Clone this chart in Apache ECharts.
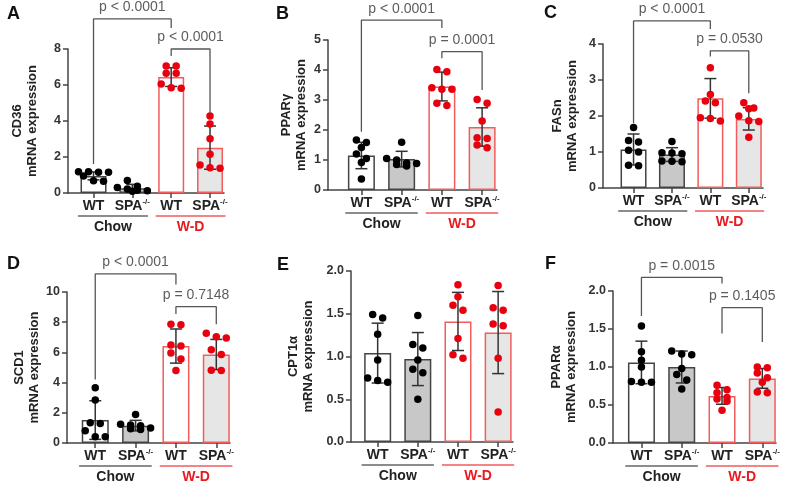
<!DOCTYPE html>
<html>
<head>
<meta charset="utf-8">
<script src="https://cdn.jsdelivr.net/npm/echarts@6/dist/echarts.min.js"></script>
<style>
  html, body { margin: 0; background: #fff; }
  #chart { width: 794px; height: 490px; }
</style>
</head>
<body>
<div id="chart"></div>
<script>
// group order in every panel: Chow WT, Chow SPA-/-, W-D WT, W-D SPA-/-
const genotypes = ['WT', 'SPA']
const diets = ['Chow', 'W-D']

const cd36Ticks = [0, 2, 4, 6, 8]
const cd36Mean = [0.95, 0.26, 6.44, 2.52]
const cd36Sd = [0.22, 0.22, 0.52, 1.2]
const cd36Dots = [
  [1.18, 1.18, 1.15, 1.15, 0.95, 0.68, 0.65],
  [0.7, 0.38, 0.3, 0.22, 0.15, 0.12, 0.1],
  [7.06, 7.06, 6.65, 6.65, 6.05, 5.85, 5.82],
  [4.28, 3.83, 3.02, 2.15, 1.55, 1.4, 1.37]
]
const cd36Tests = [
  { from: 1, to: 3, level: 9.67, legs: [1.61, 9.17], p: 'p < 0.0001' },
  { from: 3, to: 4, level: 8.0, legs: [7.61, 4.44], p: 'p < 0.0001' }
]

const ppargTicks = [0, 1, 2, 3, 4, 5]
const ppargMean = [1.15, 1.03, 3.45, 2.1]
const ppargSd = [0.44, 0.26, 0.48, 0.64]
const ppargDots = [
  [1.67, 1.58, 1.42, 1.2, 1.05, 0.92, 0.37],
  [1.59, 1.05, 1.0, 0.9, 0.88, 0.85, 0.8],
  [4.02, 3.94, 3.41, 3.36, 3.36, 2.89, 2.82],
  [3.02, 2.89, 2.3, 1.74, 1.72, 1.5, 1.41]
]
const ppargTests = [
  { from: 1, to: 3, level: 5.66, legs: [1.94, 5.4], p: 'p < 0.0001' },
  { from: 3, to: 4, level: 4.61, legs: [4.39, 3.33], p: 'p = 0.0001' }
]

const fasnTicks = [0, 1, 2, 3, 4]
const fasnMean = [1.07, 0.93, 2.49, 1.92]
const fasnSd = [0.43, 0.19, 0.55, 0.31]
const fasnDots = [
  [1.68, 1.32, 1.28, 1.05, 1.0, 0.63, 0.62],
  [1.29, 0.98, 0.97, 0.95, 0.75, 0.74, 0.73],
  [3.34, 2.6, 2.42, 2.37, 1.95, 1.93, 1.86],
  [2.37, 2.22, 2.2, 2.0, 1.87, 1.85, 1.41]
]
const fasnTests = [
  { from: 1, to: 3, level: 4.64, legs: [1.8, 4.42], p: 'p < 0.0001' },
  { from: 3, to: 4, level: 3.81, legs: [3.65, 2.63], p: 'p = 0.0530' }
]

const scd1Ticks = [0, 2, 4, 6, 8, 10]
const scd1Mean = [1.52, 1.15, 6.42, 5.86]
const scd1Sd = [1.28, 0.35, 1.13, 1.0]
const scd1Dots = [
  [3.66, 2.85, 1.34, 1.29, 0.81, 0.42, 0.42],
  [1.89, 1.25, 1.2, 1.15, 1.0, 0.95, 0.9],
  [7.87, 7.83, 6.49, 6.43, 5.96, 5.57, 4.8],
  [7.26, 7.04, 6.95, 6.18, 5.86, 4.82, 4.8]
]
const scd1Tests = [
  { from: 1, to: 3, level: 11.2, legs: [4.2, 10.5], p: 'p < 0.0001' },
  { from: 3, to: 4, level: 9.03, legs: [8.55, 7.87], p: 'p = 0.7148' }
]

const cpt1aTicks = [0, 0.5, 1.0, 1.5, 2.0]
const cpt1aMean = [1.04, 0.97, 1.41, 1.28]
const cpt1aSd = [0.35, 0.31, 0.34, 0.48]
const cpt1aDots = [
  [1.49, 1.45, 1.26, 0.96, 0.75, 0.72, 0.7],
  [1.48, 1.14, 1.1, 0.96, 0.85, 0.81, 0.5],
  [1.84, 1.7, 1.6, 1.54, 1.21, 1.02, 0.98],
  [1.83, 1.57, 1.54, 1.38, 1.36, 0.98, 0.35]
]
const cpt1aTests = []

const pparaTicks = [0, 0.5, 1.0, 1.5, 2.0]
const pparaMean = [1.06, 1.0, 0.62, 0.85]
const pparaSd = [0.28, 0.21, 0.11, 0.13]
const pparaDots = [
  [1.54, 1.2, 1.09, 1.0, 0.81, 0.8, 0.8],
  [1.21, 1.17, 1.16, 0.98, 0.9, 0.83, 0.71],
  [0.76, 0.7, 0.66, 0.6, 0.58, 0.55, 0.43],
  [1.0, 0.99, 0.92, 0.86, 0.8, 0.67, 0.66]
]
const pparaTests = [
  { from: 1, to: 3, level: 2.18, legs: [1.67, 2.1], p: 'p = 0.0015' },
  { from: 3, to: 4, level: 1.78, legs: [1.44, 1.33], p: 'p = 0.1405' }
]

const panels = [
  { letter: 'A', gene: 'CD36', ticks: cd36Ticks, mean: cd36Mean, sd: cd36Sd, dots: cd36Dots, tests: cd36Tests,
    box: { left: 68, top: 49, width: 156, height: 144 }, xRange: [0.343, 4.36], nameGap: 28, letterAt: [7, 5] },
  { letter: 'B', gene: 'PPARγ', ticks: ppargTicks, mean: ppargMean, sd: ppargSd, dots: ppargDots, tests: ppargTests,
    box: { left: 328, top: 40, width: 169, height: 150 }, xRange: [0.17, 4.37], nameGap: 19, letterAt: [276, 5] },
  { letter: 'C', gene: 'FASn', ticks: fasnTicks, mean: fasnMean, sd: fasnSd, dots: fasnDots, tests: fasnTests,
    box: { left: 603, top: 44, width: 160, height: 144 }, xRange: [0.205, 4.37], nameGap: 23, letterAt: [544, 4] },
  { letter: 'D', gene: 'SCD1', ticks: scd1Ticks, mean: scd1Mean, sd: scd1Sd, dots: scd1Dots, tests: scd1Tests,
    box: { left: 67, top: 292, width: 163, height: 151 }, xRange: [0.3, 4.34], nameGap: 18, letterAt: [7, 255] },
  { letter: 'E', gene: 'CPT1α', ticks: cpt1aTicks, mean: cpt1aMean, sd: cpt1aSd, dots: cpt1aDots, tests: cpt1aTests,
    box: { left: 351, top: 271, width: 162, height: 171 }, xRange: [0.336, 4.37], nameGap: 35, letterAt: [277, 256] },
  { letter: 'F', gene: 'PPARα', ticks: pparaTicks, mean: pparaMean, sd: pparaSd, dots: pparaDots, tests: pparaTests,
    box: { left: 613, top: 291, width: 163, height: 152 }, xRange: [0.294, 4.34], nameGap: 34, letterAt: [545, 255] }
]

const font = 'Arial, "Liberation Sans", Helvetica, sans-serif'
const axisColor = '#444444'
const barFill = ['#ffffff', '#c8c8c8', '#ffffff', '#e6e6e6']
const barEdge = ['#444444', '#444444', '#f25c5c', '#f25c5c']
const dotColor = ['#000000', '#000000', '#e8000f', '#e8000f']
const dietColor = ['#222222', '#e8191f']
const dietLine = ['#666666', '#f25c5c']

// spread dots sitting at about the same height into centred rows
function swarm(vals, pxPerUnit, gap = 10, rowTol = 6, rowMax = 4) {
  const order = vals.map((v, i) => i).sort((a, b) => vals[b] - vals[a])
  const offsets = vals.map(() => 0)
  let row = []
  const flush = () => {
    row.forEach((idx, k) => { offsets[idx] = (k - (row.length - 1) / 2) * gap })
    row = []
  }
  order.forEach(idx => {
    if (row.length && ((vals[row[0]] - vals[idx]) * pxPerUnit > rowTol || row.length >= rowMax)) flush()
    row.push(idx)
  })
  flush()
  return offsets
}

function renderErrorBar(params, api) {
  const x = api.value(0)
  const m = api.value(1)
  const s = api.value(2)
  const hi = api.coord([x, m + s])
  const lo = api.coord([x, m - s])
  const cap = 6
  const style = { stroke: '#333', lineWidth: 1.5 }
  return {
    type: 'group',
    children: [
      { type: 'line', shape: { x1: hi[0], y1: hi[1], x2: lo[0], y2: lo[1] }, style },
      { type: 'line', shape: { x1: hi[0] - cap, y1: hi[1], x2: hi[0] + cap, y2: hi[1] }, style },
      { type: 'line', shape: { x1: lo[0] - cap, y1: lo[1], x2: lo[0] + cap, y2: lo[1] }, style }
    ]
  }
}

function renderDiet(params, api) {
  const i = api.value(2)
  const a = api.coord([api.value(0) - 0.4, 0])
  const b = api.coord([api.value(1) + 0.4, 0])
  return {
    type: 'group',
    children: [
      { type: 'line', shape: { x1: a[0], y1: a[1] + 23, x2: b[0], y2: b[1] + 23 },
        style: { stroke: dietLine[i], lineWidth: 1.5 } },
      { type: 'text', style: { text: diets[i], x: (a[0] + b[0]) / 2, y: a[1] + 34, align: 'center',
        verticalAlign: 'middle', font: 'bold 14px ' + font, fill: dietColor[i] } }
    ]
  }
}

const option = {
  animation: false,
  textStyle: { fontFamily: font },
  title: [],
  grid: [],
  xAxis: [],
  yAxis: [],
  series: []
}

panels.forEach((p, k) => {
  const yMax = p.ticks[p.ticks.length - 1]
  const step = p.ticks[1] - p.ticks[0]
  const pxPerUnit = p.box.height / yMax
  const barWidth = Math.round(0.67 * p.box.width / (p.xRange[1] - p.xRange[0]))
  const decimals = step < 1 ? 1 : 0
  const xs = p.mean.map((m, i) => i + 1)

  option.title.push({
    text: p.letter, left: p.letterAt[0], top: p.letterAt[1], padding: 0,
    textStyle: { fontSize: 18, fontWeight: 'bold', color: '#111', fontFamily: font }
  })
  option.grid.push({ ...p.box })

  option.xAxis.push({
    gridIndex: k, type: 'value', min: p.xRange[0], max: p.xRange[1],
    axisLine: { show: true, lineStyle: { color: axisColor, width: 1.5 } },
    axisTick: { show: true, customValues: xs, length: 5, lineStyle: { color: axisColor, width: 1.5 } },
    axisLabel: {
      customValues: xs, margin: 5, fontSize: 14, fontWeight: 'bold', color: '#222', lineHeight: 16,
      formatter: v => {
        const g = genotypes[(Math.round(v) - 1) % 2]
        return g === 'WT' ? g : g + '{sup|-/-}'
      },
      rich: { sup: { fontSize: 8, fontWeight: 'bold', color: '#222', verticalAlign: 'top', lineHeight: 16 } }
    },
    splitLine: { show: false }
  })

  option.yAxis.push({
    gridIndex: k, type: 'value', min: 0, max: yMax, interval: step,
    name: p.gene + '\nmRNA expression', nameLocation: 'middle', nameGap: p.nameGap,
    nameTextStyle: { fontSize: 13, fontWeight: 'bold', color: '#222', lineHeight: 15 },
    axisLine: { show: true, lineStyle: { color: axisColor, width: 1.5 } },
    axisTick: { show: true, length: 5, lineStyle: { color: axisColor, width: 1.5 } },
    axisLabel: { fontSize: 12.5, fontWeight: 'bold', color: '#333', margin: 7, formatter: v => v.toFixed(decimals) },
    splitLine: { show: false }
  })

  option.series.push({
    type: 'bar', xAxisIndex: k, yAxisIndex: k, barWidth, z: 2,
    data: p.mean.map((m, i) => ({
      value: [i + 1, m],
      itemStyle: { color: barFill[i], borderColor: barEdge[i], borderWidth: 1.5 }
    }))
  })

  option.series.push({
    type: 'custom', xAxisIndex: k, yAxisIndex: k, z: 3, clip: false,
    renderItem: renderErrorBar, encode: { x: 0, y: 1 },
    data: p.mean.map((m, i) => [i + 1, m, p.sd[i]])
  })

  const dotData = []
  p.dots.forEach((vals, i) => {
    const off = swarm(vals, pxPerUnit)
    vals.forEach((v, j) => dotData.push({
      value: [i + 1, v], symbolOffset: [off[j], 0], itemStyle: { color: dotColor[i], opacity: 1 }
    }))
  })
  option.series.push({
    type: 'scatter', xAxisIndex: k, yAxisIndex: k, z: 4, symbolSize: 7.5, clip: false,
    itemStyle: { opacity: 1 }, data: dotData
  })

  option.series.push({
    type: 'custom', xAxisIndex: k, yAxisIndex: k, clip: false, silent: true,
    renderItem: renderDiet, encode: { x: [0, 1], y: 2 },
    data: diets.map((d, i) => [2 * i + 1, 2 * i + 2, i])
  })

  p.tests.forEach(t => {
    option.series.push({
      type: 'line', xAxisIndex: k, yAxisIndex: k, clip: false, silent: true, symbol: 'none', z: 5,
      lineStyle: { color: '#555', width: 1.3 },
      data: [[t.from, t.legs[0]], [t.from, t.level], [t.to, t.level], [t.to, t.legs[1]]]
    })
    option.series.push({
      type: 'scatter', xAxisIndex: k, yAxisIndex: k, clip: false, silent: true, symbolSize: 1, z: 5,
      itemStyle: { color: 'rgba(0,0,0,0)' },
      label: { show: true, position: 'top', distance: 4, formatter: t.p, fontSize: 14, color: '#333' },
      data: [[(t.from + t.to) / 2, t.level]]
    })
  })
})

const chart = echarts.init(document.getElementById('chart'))
chart.setOption(option)
</script>
</body>
</html>
